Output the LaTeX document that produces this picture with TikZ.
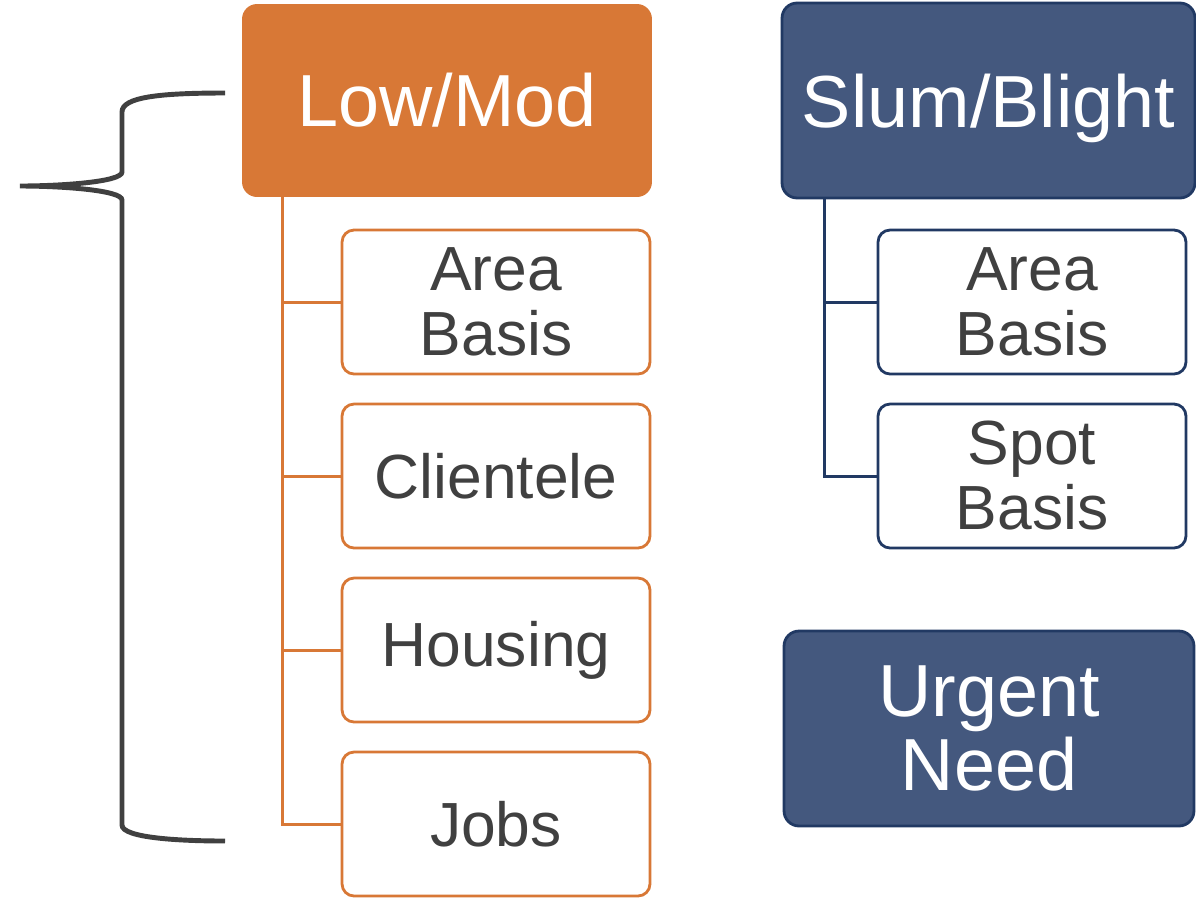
\documentclass[tikz,border=0pt]{standalone}
\definecolor{LowModOrange}{RGB}{216,120,54}
\definecolor{BlightFill}{RGB}{68,88,126}
\definecolor{BlightEdge}{RGB}{33,57,99}
\definecolor{BraceGray}{RGB}{64,64,64}
\usepackage{fontspec}
\setmainfont{Liberation Sans}
\usepackage{tikz}
\usetikzlibrary{positioning, calc}

\begin{document}
\begin{tikzpicture}[x=0.02cm, y=-0.02cm,
    headbox/.style={rounded corners=0.3cm, align=center, text=white,
                    inner sep=0pt, minimum height=3.9cm,
                    font=\fontsize{42}{42}\selectfont},
    lowhead/.style={headbox, fill=LowModOrange, minimum width=8.2cm},
    blighthead/.style={headbox, fill=BlightFill, draw=BlightEdge,
                       line width=1.6pt, minimum width=8.2cm},
    subbox/.style={rounded corners=0.24cm, fill=white, align=center,
                   text=BraceGray, line width=1.6pt, inner sep=0pt,
                   minimum width=6.16cm, minimum height=2.88cm,
                   font=\fontsize{35.5}{37}\selectfont},
    lowsub/.style={subbox, draw=LowModOrange},
    blightsub/.style={subbox, draw=BlightEdge},
    lowlink/.style={draw=LowModOrange, line width=1.7pt},
    blightlink/.style={draw=BlightEdge, line width=1.7pt}]
  \useasboundingbox (0,0) rectangle (1196,897);

  % national objectives
  \node[lowhead, minimum height=3.86cm] (lowmod) at (447,100.5) {Low/Mod};
  \node[blighthead, text depth=0pt, minimum width=8.26cm] (slum) at (988.5,100.5) {Slum/Blight};
  \node[blighthead] (urgent) at (989,728.5) {Urgent\\Need};

  % low/mod categories
  \node[lowsub] (lmarea)   at (496,302) {Area\\Basis};
  \node[lowsub] (lmclient) at (496,476) {Clientele};
  \node[lowsub] (lmhouse)  at (496,650) {Housing};
  \node[lowsub] (lmjobs)   at (496,824) {Jobs};

  % slum/blight categories
  \node[blightsub] (sbarea) at (1032,302) {Area\\Basis};
  \node[blightsub] (sbspot) at (1032,476) {Spot\\Basis};

  % tree lines
  \coordinate (lmtrunk) at ($(lowmod.south west)+(41,0)$);
  \coordinate (sbtrunk) at ($(slum.south west)+(44,0)$);
  \foreach \child in {lmarea, lmclient, lmhouse, lmjobs}
    \draw[lowlink] (lmtrunk) |- (\child.west);
  \foreach \child in {sbarea, sbspot}
    \draw[blightlink] (sbtrunk) |- (\child.west);

  % brace over the low/mod column
  \draw[BraceGray, line width=2.8pt]
    (225,93) .. controls (160,93) and (122,97) .. (122,112) -- (122,172)
    .. controls (122,182) and (60,186) .. (20,186)
    .. controls (60,186) and (122,190) .. (122,200) -- (122,825)
    .. controls (122,838) and (180,841) .. (225,841);
\end{tikzpicture}
\end{document}
